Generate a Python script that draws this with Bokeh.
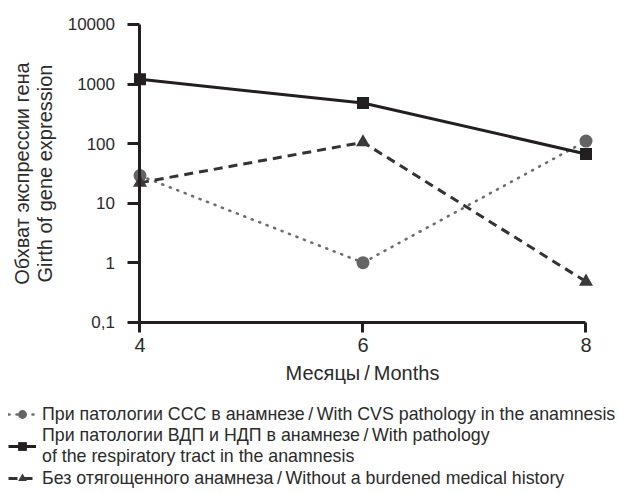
from bokeh.plotting import figure
from bokeh.models import Range1d, FixedTicker, Legend, LegendItem
from bokeh.embed import file_html
from bokeh.resources import INLINE

# ---- data ----
months = [4, 6, 8]
x_tick_labels = ["4", "6", "8"]
cvs_values = [29, 1.0, 110]            # circles, dotted
resp_values = [1200, 480, 67]          # squares, solid
healthy_values = [22, 105, 0.48]       # triangles, dashed
y_ticks = [0.1, 1, 10, 100, 1000, 10000]
y_tick_labels = ["0,1", "1", "10", "100", "1000", "10000"]
series_labels = [
    "При патологии ССС в анамнезе\u2009/\u2009With CVS pathology in the anamnesis",
    "При патологии ВДП и НДП в анамнезе\u2009/\u2009With pathology\nof the respiratory tract in the anamnesis",
    "Без отягощенного анамнеза\u2009/\u2009Without a burdened medical history",
]
x_label = "Месяцы\u2009/\u2009Months"
y_label = "Обхват экспрессии гена\nGirth of gene expression"

FONT = "'Liberation Sans', Arial, sans-serif"
INK = "#231f20"
TXT = "#2b2b2b"

p = figure(width=633, height=493, y_axis_type="log",
           x_range=Range1d(2.749, 8.426),
           y_range=Range1d(10 ** -3.877, 10 ** 4.403),
           min_border=0, toolbar_location=None, output_backend="svg")
p.outline_line_color = None
p.grid.visible = False
p.background_fill_color = "white"

# series
r1l = p.line(months, cvs_values, line_color="#6e6e6e", line_width=2.6,
             line_dash="1 7", line_cap="round")
r1m = p.scatter(months, cvs_values, marker="circle", size=13,
                fill_color="#646464", line_color=None)
r2l = p.line(months, resp_values, line_color=INK, line_width=3)
r2m = p.scatter(months, resp_values, marker="square", size=12,
                fill_color=INK, line_color=None)
r3l = p.line(months, healthy_values, line_color="#333333", line_width=3,
             line_dash="9 6")
r3m = p.scatter(months, healthy_values, marker="triangle", size=14,
                fill_color="#3a3a3a", line_color=None)

# x axis
xa = p.xaxis[0]
xa.fixed_location = y_ticks[0]
xa.bounds = (months[0], months[-1])
xa.ticker = FixedTicker(ticks=months)
xa.major_label_overrides = dict(zip(months, x_tick_labels))
xa.minor_tick_line_color = None
xa.major_tick_in = 0
xa.major_tick_out = 10
xa.axis_line_width = 3
xa.major_tick_line_width = 3
xa.axis_line_color = INK
xa.major_tick_line_color = INK
xa.major_label_text_font = FONT
xa.major_label_text_font_size = "20px"
xa.major_label_text_color = TXT
xa.major_label_standoff = 6
xa.axis_label = x_label
xa.axis_label_text_font = FONT
xa.axis_label_text_font_size = "20px"
xa.axis_label_text_font_style = "normal"
xa.axis_label_text_color = TXT
xa.axis_label_standoff = 6

# y axis
ya = p.yaxis[0]
ya.fixed_location = months[0]
ya.bounds = (y_ticks[0], y_ticks[-1])
ya.ticker = FixedTicker(ticks=y_ticks, minor_ticks=[])
ya.major_label_overrides = dict(zip(y_ticks, y_tick_labels))
ya.minor_tick_line_color = None
ya.major_tick_in = 0
ya.major_tick_out = 12
ya.axis_line_width = 3
ya.major_tick_line_width = 3
ya.axis_line_color = INK
ya.major_tick_line_color = INK
ya.major_label_text_font = FONT
ya.major_label_text_font_size = "17px"
ya.major_label_text_color = TXT
ya.major_label_standoff = 13
ya.axis_label = y_label
ya.axis_label_text_font = FONT
ya.axis_label_text_font_size = "20px"
ya.axis_label_text_font_style = "normal"
ya.axis_label_text_color = TXT
ya.axis_label_text_line_height = 1.05
ya.axis_label_standoff = 8

legend = Legend(items=[
    LegendItem(label=series_labels[0], renderers=[r1l, r1m]),
    LegendItem(label=series_labels[1], renderers=[r2l, r2m]),
    LegendItem(label=series_labels[2], renderers=[r3l, r3m]),
], location=(8, 4))
legend.margin = 0
legend.padding = 0
legend.spacing = 0
legend.glyph_width = 28
legend.glyph_height = 22
legend.label_height = 22
legend.label_standoff = 6
legend.label_text_font = FONT
legend.label_text_font_size = "17.8px"
legend.label_text_color = TXT
legend.label_text_line_height = 1.22
legend.border_line_color = None
legend.background_fill_alpha = 0
p.add_layout(legend)

open("out.html", "w").write(file_html(p, INLINE))
